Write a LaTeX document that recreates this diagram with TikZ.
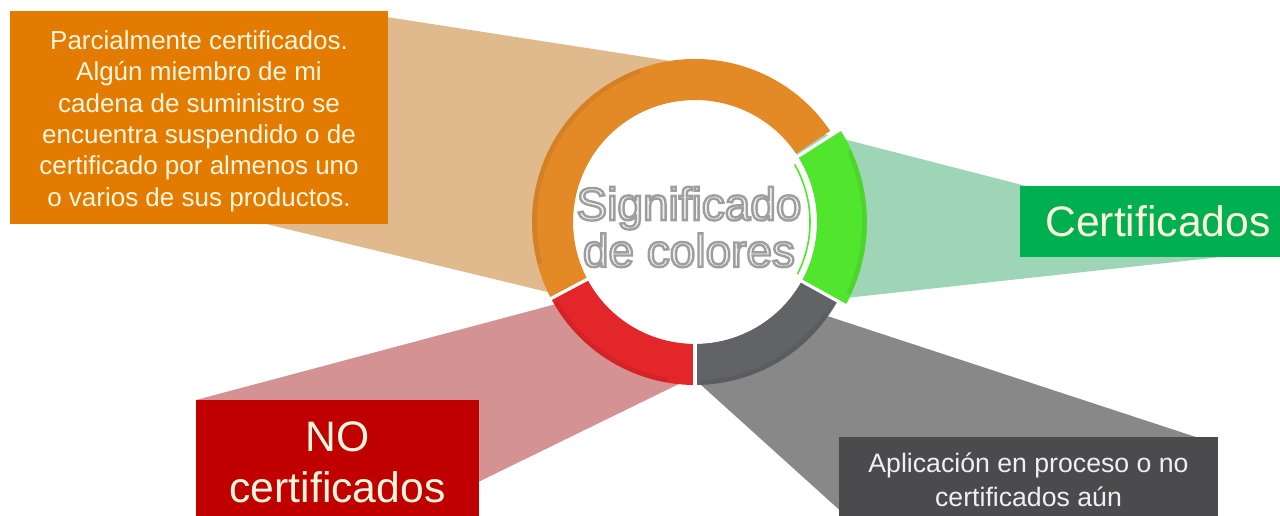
\documentclass[tikz,border=0pt]{standalone}
\usepackage{fontspec}
\setmainfont{Liberation Sans}

\definecolor{boxorange}{HTML}{E27B00}
\definecolor{ringorange}{HTML}{E38A27}
\definecolor{wedgeorange}{HTML}{E0BA8C}
\definecolor{boxgreen}{HTML}{00B050}
\definecolor{ringgreen}{HTML}{52E52D}
\definecolor{wedgegreen}{HTML}{9FD5B7}
\definecolor{boxred}{HTML}{C00000}
\definecolor{ringred}{HTML}{E3262A}
\definecolor{wedgered}{HTML}{D49293}
\definecolor{boxgray}{HTML}{4B4B4D}
\definecolor{ringgray}{HTML}{626366}
\definecolor{wedgegray}{HTML}{888888}
\definecolor{cream}{HTML}{FFF6DE}
\definecolor{titlefill}{HTML}{F2F2F2}
\newcommand{\outlined}[1]{\special{pdf:literal direct 0.62 G 1.8 w 2 Tr}#1\special{pdf:literal direct 0 Tr}}

\begin{document}
\begin{tikzpicture}[x=0.75pt, y=-0.75pt]
\tikzstyle{box} = [rectangle, inner sep=0pt, align=center, text=cream]
\tikzstyle{sep} = [draw=white, line width=2.4pt]
\tikzstyle{rim} = [line width=3.4pt, opacity=0.22]
\useasboundingbox (0,0) rectangle (1280,516);

% wedges behind the ring
\fill[wedgeorange] (380,16) -- (690,64) -- (695,222) -- (560,295) -- (200,208) -- cycle;
\fill[wedgegreen] (820,133) -- (1100,205) -- (1230,256) -- (800,303) -- (695,222) -- cycle;
\fill[wedgered] (560,303) -- (196,400) -- (470,486) -- (685,381) -- (695,222) -- cycle;
\fill[wedgegray] (815,312) -- (1205,440) -- (845,515) -- (690,375) -- (695,222) -- cycle;

% ring
\begin{scope}[shift={(695,222)}]
\fill[white] (0,0) circle[radius=122];
\fill[ringorange] (152:163) arc[start angle=152, end angle=326, radius=163]
  -- (326:122) arc[start angle=326, end angle=152, radius=122] -- cycle;
\fill[ringred] (90:163) arc[start angle=90, end angle=152, radius=163]
  -- (152:122) arc[start angle=152, end angle=90, radius=122] -- cycle;
\fill[ringgray] (29:163) arc[start angle=29, end angle=90, radius=163]
  -- (90:122) arc[start angle=90, end angle=29, radius=122] -- cycle;
\fill[ringgreen] (-32:172) arc[start angle=-32, end angle=29, radius=172]
  -- (29:122) arc[start angle=29, end angle=-32, radius=122] -- cycle;
% darker outer rims
\draw[rim, ringorange!70!black] (165:160.5) arc[start angle=165, end angle=250, radius=160.5];
\draw[rim, ringred!70!black] (100:160.5) arc[start angle=100, end angle=150, radius=160.5];
\draw[rim, ringgray!70!black] (35:160.5) arc[start angle=35, end angle=88, radius=160.5];
\draw[rim, ringgreen!70!black] (-25:169.5) arc[start angle=-25, end angle=25, radius=169.5];
\draw[ringgreen, line width=1.2pt] (-30:115) arc[start angle=-30, end angle=27, radius=115];
\draw[sep] (90:118) -- (90:176);
\draw[sep] (152:118) -- (152:176);
\draw[sep] (29:118) -- (29:176);
\draw[sep] (-32.5:118) -- (-32.5:176);
\end{scope}

% labels
\node[box, fill=boxorange, minimum width=283.5pt, minimum height=159.75pt] (parcial) at (199,117.5) {};
\node[align=center, text=cream, font=\fontsize{19.5}{23.5}\selectfont] (parcialtxt) at (199,121)
  {Parcialmente certificados.\\Algún miembro de mi\\cadena de suministro se\\encuentra suspendido o de\\certificado por almenos uno\\o varios de sus productos.};
\node[box, fill=boxgreen, minimum width=195pt, minimum height=53.25pt,
  font=\fontsize{32}{36}\selectfont] (cert) at (1150,221.5) {\hspace*{12pt}Certificados};
\node[box, fill=boxred, minimum width=212.25pt, minimum height=93pt,
  font=\fontsize{32}{38}\selectfont] (nocert) at (337.5,462) {NO\\certificados};
\node[box, fill=boxgray, minimum width=284.25pt, minimum height=64.5pt, text=white!94!black,
  font=\fontsize{20}{25.5}\selectfont] (proceso) at (1028.5,480) {Aplicación en proceso o no\\certificados aún};
\node[align=center, font=\fontsize{34.5}{35}\selectfont, text=titlefill] (titulo) at (689,227)
  {\outlined{Significado}\\\outlined{de colores}};
\end{tikzpicture}
\end{document}
